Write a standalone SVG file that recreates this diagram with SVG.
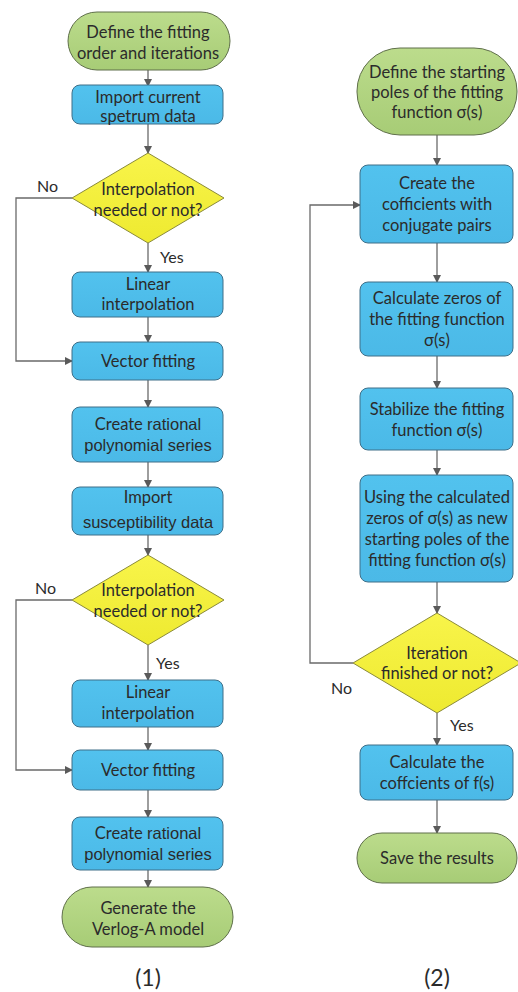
<svg xmlns="http://www.w3.org/2000/svg" width="518" height="992" viewBox="0 0 518 992">
<style>
.t{font-family:Lato,"Open Sans",sans-serif;font-size:16.5px;fill:#2b2b2b;text-anchor:middle}
.a{font-family:"Liberation Sans",Arial,sans-serif;font-size:16.5px}
.g{fill:url(#gg);stroke:#5f6f4a;stroke-width:1}
.b{fill:url(#gb);stroke:#3f6f88;stroke-width:1}
.y{fill:url(#gy);stroke:#8a8a3a;stroke-width:1;stroke-linejoin:round}
.c{fill:none;stroke:#6a6a6a;stroke-width:1.3}
.lbl{font-family:Lato,"Open Sans",sans-serif;font-size:16px;fill:#2b2b2b}
.cap{font-family:Lato,"Open Sans",sans-serif;font-size:23px;fill:#2b2b2b;text-anchor:middle}
</style>
<defs>
<linearGradient id="gg" x1="0" y1="0" x2="0" y2="1"><stop offset="0" stop-color="#bcdc8c"/><stop offset="1" stop-color="#a7cc76"/></linearGradient>
<linearGradient id="gb" x1="0" y1="0" x2="0" y2="1"><stop offset="0" stop-color="#52c2ee"/><stop offset="1" stop-color="#4bb9e7"/></linearGradient>
<linearGradient id="gy" x1="0" y1="0" x2="0" y2="1"><stop offset="0" stop-color="#f8f44a"/><stop offset="1" stop-color="#eeea30"/></linearGradient>
<marker id="ar" markerWidth="8" markerHeight="8" refX="7" refY="4" orient="auto" markerUnits="userSpaceOnUse"><path d="M0,0 L8,4 L0,8 z" fill="#5a5a5a"/></marker>
</defs>
<g id="connectors">
<path class="c" d="M148,70 V86" marker-end="url(#ar)"/>
<path class="c" d="M148,124 V153" marker-end="url(#ar)"/>
<path class="c" d="M148,243 V272" marker-end="url(#ar)"/>
<path class="c" d="M148,317 V342" marker-end="url(#ar)"/>
<path class="c" d="M72,198 H16 V361 H72" marker-end="url(#ar)"/>
<path class="c" d="M148,380 V407" marker-end="url(#ar)"/>
<path class="c" d="M148,462 V487" marker-end="url(#ar)"/>
<path class="c" d="M148,535 V555" marker-end="url(#ar)"/>
<path class="c" d="M148,645 V680" marker-end="url(#ar)"/>
<path class="c" d="M148,727 V750" marker-end="url(#ar)"/>
<path class="c" d="M72,600 H16 V770 H72" marker-end="url(#ar)"/>
<path class="c" d="M148,790 V817" marker-end="url(#ar)"/>
<path class="c" d="M148,870 V887" marker-end="url(#ar)"/>
<path class="c" d="M437,135 V165" marker-end="url(#ar)"/>
<path class="c" d="M437,243 V282" marker-end="url(#ar)"/>
<path class="c" d="M437,356 V388" marker-end="url(#ar)"/>
<path class="c" d="M437,450 V475" marker-end="url(#ar)"/>
<path class="c" d="M437,582 V613" marker-end="url(#ar)"/>
<path class="c" d="M353,663 H310 V205 H360" marker-end="url(#ar)"/>
<path class="c" d="M437,713 V745" marker-end="url(#ar)"/>
<path class="c" d="M437,800 V833" marker-end="url(#ar)"/>
<text class="lbl" x="37" y="192">No</text>
<text class="lbl" x="160" y="263">Yes</text>
<text class="lbl" x="35" y="594">No</text>
<text class="lbl" x="156" y="669">Yes</text>
<text class="lbl" x="331" y="694">No</text>
<text class="lbl" x="450" y="731">Yes</text>
</g>
<g id="n1"><rect class="g" x="68" y="12" width="162" height="58" rx="29"/><text class="t" x="148" y="38">Define the fitting</text><text class="t" x="148" y="59">order and iterations</text></g>
<g id="n2"><rect class="b" x="72" y="85" width="151" height="39" rx="8"/><text class="t" x="148" y="103">Import current</text><text class="t" x="148" y="122">spetrum data</text></g>
<g id="n3"><polygon class="y" points="148,153 224,198 148,243 72,198"/><text class="t" x="148" y="195">Interpolation</text><text class="t" x="148" y="216">needed or not?</text></g>
<g id="n4"><rect class="b" x="72" y="272" width="151" height="45" rx="8"/><text class="t" x="148" y="290">Linear</text><text class="t" x="148" y="310">interpolation</text></g>
<g id="n5"><rect class="b" x="72" y="342" width="151" height="38" rx="8"/><text class="t" x="148" y="367">Vector fitting</text></g>
<g id="n6"><rect class="b" x="72" y="407" width="151" height="55" rx="8"/><text class="t" x="148" y="430">Create <tspan class="a">rational</tspan></text><text class="t a" x="148" y="451">polynomial series</text></g>
<g id="n7"><rect class="b" x="72" y="487" width="151" height="48" rx="8"/><text class="t" x="148" y="503">Import</text><text class="t a" x="148" y="528">susceptibility data</text></g>
<g id="n8"><polygon class="y" points="148,555 224,600 148,645 72,600"/><text class="t" x="148" y="596">Interpolation</text><text class="t" x="148" y="617">needed or not?</text></g>
<g id="n9"><rect class="b" x="72" y="680" width="151" height="47" rx="8"/><text class="t" x="148" y="698">Linear</text><text class="t" x="148" y="719">interpolation</text></g>
<g id="n10"><rect class="b" x="72" y="750" width="151" height="40" rx="8"/><text class="t" x="148" y="776">Vector fitting</text></g>
<g id="n11"><rect class="b" x="72" y="817" width="151" height="53" rx="8"/><text class="t" x="148" y="839">Create <tspan class="a">rational</tspan></text><text class="t a" x="148" y="860">polynomial series</text></g>
<g id="n12"><rect class="g" x="62" y="887" width="171" height="60" rx="30"/><text class="t" x="148" y="914">Generate the</text><text class="t" x="148" y="935">Verlog-A model</text></g>
<text class="cap" x="148" y="986">(1)</text>
<g id="m1"><rect class="g" x="357" y="48" width="160" height="87" rx="43"/><text class="t" x="437" y="78">Define the starting</text><text class="t" x="437" y="98">poles of the fitting</text><text class="t" x="437" y="118">function σ(s)</text></g>
<g id="m2"><rect class="b" x="360" y="165" width="153" height="78" rx="8"/><text class="t" x="437" y="189">Create the</text><text class="t" x="437" y="210">cofficients with</text><text class="t" x="437" y="231">conjugate pairs</text></g>
<g id="m3"><rect class="b" x="360" y="282" width="153" height="74" rx="8"/><text class="t" x="437" y="304">Calculate zeros of</text><text class="t" x="437" y="325">the fitting function</text><text class="t" x="437" y="346">σ(s)</text></g>
<g id="m4"><rect class="b" x="360" y="388" width="153" height="62" rx="8"/><text class="t" x="437" y="415">Stabilize the fitting</text><text class="t" x="437" y="436">function σ(s)</text></g>
<g id="m5"><rect class="b" x="360" y="475" width="153" height="107" rx="8"/><text class="t" x="437" y="503">Using the calculated</text><text class="t" x="437" y="524">zeros of σ(s) as new</text><text class="t" x="437" y="545">starting poles of the</text><text class="t" x="437" y="566">fitting function σ(s)</text></g>
<g id="m6"><polygon class="y" points="437,613 521,663 437,713 353,663"/><text class="t" x="437" y="659">Iteration</text><text class="t" x="437" y="679">finished or not?</text></g>
<g id="m7"><rect class="b" x="360" y="745" width="153" height="55" rx="8"/><text class="t" x="437" y="768">Calculate the</text><text class="t" x="437" y="789">coffcients of f(s)</text></g>
<g id="m8"><rect class="g" x="357" y="833" width="160" height="50" rx="25"/><text class="t" x="437" y="864">Save the results</text></g>
<text class="cap" x="437" y="986">(2)</text>
</svg>
